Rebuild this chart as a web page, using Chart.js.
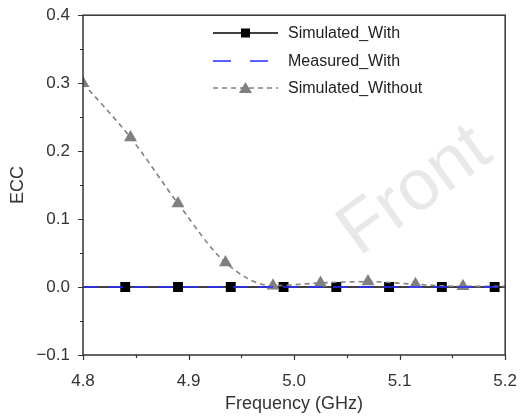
<!DOCTYPE html>
<html>
<head>
<meta charset="utf-8">
<script src="https://cdn.jsdelivr.net/npm/chart.js@4.4.1/dist/chart.umd.min.js"></script>
<style>
  html, body { margin: 0; padding: 0; background: #fff; }
  #wrap { width: 525px; height: 417px; }
</style>
</head>
<body>
<div id="wrap"><canvas id="c" width="525" height="417"></canvas></div>
<script>
// ---- Data ----
const simWithFreq = [4.80, 4.84, 4.89, 4.94, 4.99, 5.04, 5.09, 5.14, 5.19, 5.20];
const simWithEcc  = [0.000, 0.000, 0.000, 0.000, 0.000, 0.000, 0.000, 0.000, 0.000, 0.000];
const simWithMarker = [false, true, true, true, true, true, true, true, true, false];

const measWithFreq = [4.80, 4.90, 5.00, 5.10, 5.20];
const measWithEcc  = [0.000, 0.000, 0.000, 0.000, 0.000];

const simWithoutFreq = [4.800, 4.845, 4.890, 4.935, 4.980, 5.025, 5.070, 5.115, 5.160, 5.200];
const simWithoutEcc  = [0.300, 0.220, 0.123, 0.036, 0.002, 0.006, 0.008, 0.004, 0.001, 0.001];
const simWithoutMarker = [true, true, true, true, true, true, true, true, true, false];

const seriesNames = ['Simulated_With', 'Measured_With', 'Simulated_Without'];
const xTickValues = [4.8, 4.9, 5.0, 5.1, 5.2];
const yTickValues = [-0.1, 0.0, 0.1, 0.2, 0.3, 0.4];
const xTitle = 'Frequency (GHz)';
const yTitle = 'ECC';
const watermark = 'Front';

const toXY = (xs, ys) => xs.map((x, i) => ({ x: x, y: ys[i] }));

const AXIS = '#333333';
const TXT = '#333333';
const FONT = '"Liberation Sans", Arial, sans-serif';

const framePlugin = {
  id: 'frame',
  beforeDraw(chart) {
    const ctx = chart.ctx;
    ctx.save();
    ctx.fillStyle = '#ffffff';
    ctx.fillRect(0, 0, chart.width, chart.height);
    // watermark
    ctx.translate(359, 257);
    ctx.rotate(-36 * Math.PI / 180);
    ctx.font = '72px ' + FONT;
    ctx.fillStyle = '#e8e8e8';
    ctx.textBaseline = 'alphabetic';
    ctx.fillText(watermark, 0, 0);
    ctx.restore();
  },
  afterDraw(chart) {
    const ctx = chart.ctx;
    const a = chart.chartArea;
    const xs = chart.scales.x, ys = chart.scales.y;
    ctx.save();
    ctx.setLineDash([]);
    ctx.strokeStyle = AXIS;
    ctx.lineWidth = 1.5;
    ctx.strokeRect(a.left, a.top, a.right - a.left, a.bottom - a.top);
    // ticks (major and minor), outward on bottom and left
    ctx.lineWidth = 1.2;
    ctx.beginPath();
    for (let k = 0; k <= 8; k++) {
      const v = 4.8 + k * 0.05;
      const px = Math.round(xs.getPixelForValue(v)) + 0.5;
      const len = (k % 2 === 0) ? 5 : 3;
      ctx.moveTo(px, a.bottom);
      ctx.lineTo(px, a.bottom + len);
    }
    for (let k = 0; k <= 10; k++) {
      const v = -0.1 + k * 0.05;
      const py = Math.round(ys.getPixelForValue(v)) + 0.5;
      const len = (k % 2 === 0) ? 5 : 3;
      ctx.moveTo(a.left, py);
      ctx.lineTo(a.left - len, py);
    }
    ctx.stroke();

    // legend
    const ds = chart.data.datasets;
    const rows = [33, 61, 88];
    const x0 = 213, x1 = 278, tx = 288;
    ds.forEach((d, i) => {
      const y = rows[i];
      ctx.save();
      ctx.strokeStyle = d.borderColor;
      ctx.lineWidth = d.borderWidth;
      ctx.setLineDash(d.legendDash || []);
      ctx.beginPath();
      ctx.moveTo(x0, y);
      ctx.lineTo(x1, y);
      ctx.stroke();
      ctx.setLineDash([]);
      if (d.legendMarker) {
        ctx.fillStyle = d.pointBackgroundColor;
        ctx.beginPath();
        const cx = (x0 + x1) / 2;
        if (d.pointStyle === 'rect') {
          ctx.rect(cx - 4.5, y - 4.5, 9, 9);
        } else {
          ctx.moveTo(cx, y - 6);
          ctx.lineTo(cx + 6.5, y + 5);
          ctx.lineTo(cx - 6.5, y + 5);
          ctx.closePath();
        }
        ctx.fill();
      }
      ctx.fillStyle = '#222222';
      ctx.font = '16px ' + FONT;
      ctx.textAlign = 'left';
      ctx.textBaseline = 'middle';
      ctx.fillText(seriesNames[i], tx, y + 1);
      ctx.restore();
    });
    ctx.restore();
  }
};

new Chart(document.getElementById('c'), {
  type: 'line',
  data: {
    datasets: [
      {
        label: seriesNames[0],
        data: toXY(simWithFreq, simWithEcc),
        borderColor: '#000000',
        backgroundColor: '#000000',
        borderWidth: 1.6,
        pointStyle: 'rect',
        pointRadius: simWithMarker.map(m => m ? 7 : 0),
        pointBackgroundColor: '#000000',
        pointBorderColor: '#000000',
        pointBorderWidth: 0,
        legendMarker: true,
        legendDash: [],
        order: 3
      },
      {
        label: seriesNames[1],
        data: toXY(measWithFreq, measWithEcc),
        borderColor: '#2b2bff',
        backgroundColor: '#2b2bff',
        borderWidth: 1.6,
        borderDash: [15, 10],
        legendDash: [18, 19],
        pointRadius: 0,
        legendMarker: false,
        order: 1
      },
      {
        label: seriesNames[2],
        data: toXY(simWithoutFreq, simWithoutEcc),
        borderColor: '#808080',
        backgroundColor: '#808080',
        borderWidth: 1.6,
        borderDash: [5, 4],
        legendDash: [5, 4],
        cubicInterpolationMode: 'monotone',
        pointStyle: 'triangle',
        pointRadius: simWithoutMarker.map(m => m ? 7.5 : 0),
        pointBackgroundColor: '#808080',
        pointBorderColor: '#808080',
        pointBorderWidth: 0,
        legendMarker: true,
        order: 2
      }
    ]
  },
  options: {
    responsive: false,
    animation: false,
    devicePixelRatio: 1,
    layout: { padding: { top: 15, right: 13, left: 0, bottom: 0 } },
    plugins: { legend: { display: false }, tooltip: { enabled: false } },
    scales: {
      x: {
        type: 'linear',
        min: 4.8, max: 5.2,
        afterFit(s) { s.height = 62; },
        afterBuildTicks(s) { s.ticks = xTickValues.map(v => ({ value: v })); },
        grid: { display: false, drawOnChartArea: false },
        border: { display: false },
        ticks: {
          color: TXT,
          padding: 8,
          maxRotation: 0,
          autoSkip: false,
          font: { family: FONT, size: 17 },
          callback: v => Number(v).toFixed(1)
        },
        title: {
          display: true, text: xTitle, color: TXT,
          font: { family: FONT, size: 18 },
          padding: { top: 0, bottom: 2 }
        }
      },
      y: {
        type: 'linear',
        min: -0.1, max: 0.4,
        afterFit(s) { s.width = 83; },
        afterBuildTicks(s) { s.ticks = yTickValues.map(v => ({ value: v })); },
        grid: { display: false, drawOnChartArea: false },
        border: { display: false },
        ticks: {
          color: TXT,
          padding: 5,
          autoSkip: false,
          font: { family: FONT, size: 17 },
          callback: v => { const s = Math.abs(v).toFixed(1); return v < -1e-9 ? '\u2212' + s : s; }
        },
        title: {
          display: true, text: yTitle, color: TXT,
          font: { family: FONT, size: 18 },
          padding: { top: 7, bottom: 0 }
        }
      }
    }
  },
  plugins: [framePlugin]
});
</script>
</body>
</html>
